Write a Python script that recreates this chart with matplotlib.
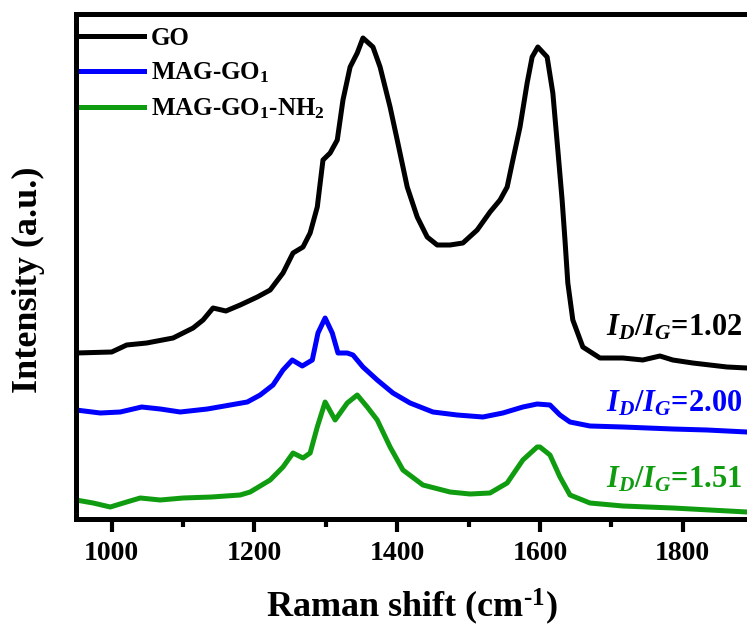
import matplotlib
matplotlib.use("Agg")
import matplotlib.pyplot as plt
from matplotlib.ticker import MultipleLocator

plt.rcParams["font.family"] = "Liberation Serif"
plt.rcParams["font.weight"] = "bold"
plt.rcParams["axes.labelweight"] = "bold"
plt.rcParams["mathtext.fontset"] = "custom"
plt.rcParams["mathtext.rm"] = "Liberation Serif:bold"
plt.rcParams["mathtext.it"] = "Liberation Serif:italic:bold"
plt.rcParams["mathtext.bf"] = "Liberation Serif:bold"

# Raman spectra (arbitrary intensity units)
go_x = [950, 1000, 1021, 1049, 1086, 1114, 1128, 1142, 1160, 1180, 1204, 1222,
        1240, 1254, 1268, 1278, 1288, 1296, 1306, 1316, 1324, 1334, 1344, 1352,
        1366, 1376, 1390, 1400, 1414, 1428, 1442, 1456, 1474, 1492, 1512, 1530,
        1544, 1554, 1562, 1572, 1582, 1589, 1597, 1610, 1618, 1625, 1631, 1635,
        1639, 1646, 1660, 1684, 1716, 1744, 1768, 1786, 1814, 1862, 1890]
go_y = [166, 167, 174, 176, 181, 191, 199, 211, 208, 214, 222, 229,
        246, 266, 272, 286, 312, 359, 366, 379, 419, 452, 466, 481,
        472, 452, 412, 379, 332, 302, 282, 274, 274, 276, 289, 307,
        319, 332, 359, 392, 436, 462, 472, 462, 426, 369, 319, 279,
        236, 199, 172, 161, 161, 159, 163, 159, 156, 152, 151]

mag_x = [950, 984, 1012, 1042, 1068, 1096, 1134, 1166, 1190, 1208, 1226, 1240,
         1253, 1267, 1281, 1289, 1299, 1309, 1317, 1330, 1338, 1352, 1372, 1394,
         1418, 1450, 1484, 1520, 1548, 1576, 1596, 1614, 1628, 1642, 1670, 1716,
         1786, 1834, 1890]
mag_y = [109, 106, 107, 112, 110, 107, 110, 114, 117, 124, 134, 149,
         159, 153, 159, 186, 201, 186, 166, 166, 164, 152, 139, 126,
         116, 107, 104, 102, 106, 112, 115, 114, 104, 97, 93, 92,
         90, 89, 87]

nh2_x = [950, 974, 998, 1021, 1040, 1068, 1100, 1140, 1180, 1194, 1222, 1240,
         1254, 1268, 1278, 1288, 1299, 1313, 1330, 1344, 1358, 1372, 1390, 1408,
         1436, 1474, 1502, 1530, 1554, 1576, 1596, 1600, 1614, 1628, 1642, 1670,
         1716, 1786, 1890]
nh2_y = [19, 16, 12, 17, 21, 19, 21, 22, 24, 27, 39, 52,
         66, 61, 66, 92, 117, 99, 116, 124, 112, 99, 72, 49,
         34, 27, 25, 26, 36, 59, 72, 72, 64, 42, 24, 16,
         13, 11, 7]

labels = ["GO", r"MAG-GO$_1$", r"MAG-GO$_1$-NH$_2$"]
ratios = [r"$I_D/I_G$=1.02", r"$I_D/I_G$=2.00", r"$I_D/I_G$=1.51"]
ratio_y = [184, 108, 32]
colors = ["#000000", "#0000FF", "#109C10"]

fig = plt.figure(figsize=(7.47, 6.28), dpi=100)
ax = fig.add_axes([76 / 747, 1 - 519 / 628, 1 - 76 / 747, (519 - 14) / 628])

for xs, ys, c, lab in zip([go_x, mag_x, nh2_x], [go_y, mag_y, nh2_y], colors, labels):
    ax.plot(xs, ys, color=c, lw=3.6, label=lab)

for txt, yy, c in zip(ratios, ratio_y, colors):
    ax.text(1692, yy, txt, color=c, fontsize=22, ha="left", va="baseline")

ax.set_xlim(950, 1890)
ax.set_ylim(0, 505)
ax.xaxis.set_major_locator(MultipleLocator(200))
ax.xaxis.set_minor_locator(MultipleLocator(100))
ax.tick_params(axis="x", which="major", direction="out", length=9, width=3,
               labelsize=20, pad=7, top=False)
ax.tick_params(axis="x", which="minor", direction="out", length=6, width=3, top=False)
ax.set_yticks([])
for s in ["left", "bottom", "top"]:
    ax.spines[s].set_linewidth(3.6)
ax.spines["right"].set_visible(False)

ax.set_xlabel(r"Raman shift (cm$^{\text{-1}}$)", fontsize=26, labelpad=15)
ax.set_ylabel("Intensity (a.u.)", fontsize=26)
ax.yaxis.set_label_coords(-0.046, 0.473)

ax.legend(loc="upper left", frameon=False, fontsize=18, handlelength=2.5,
          handletextpad=0.3, labelspacing=0.45, borderpad=0.15, borderaxespad=0.05,
          bbox_to_anchor=(0.0, 0.985))

fig.savefig("out.png", dpi=100)
